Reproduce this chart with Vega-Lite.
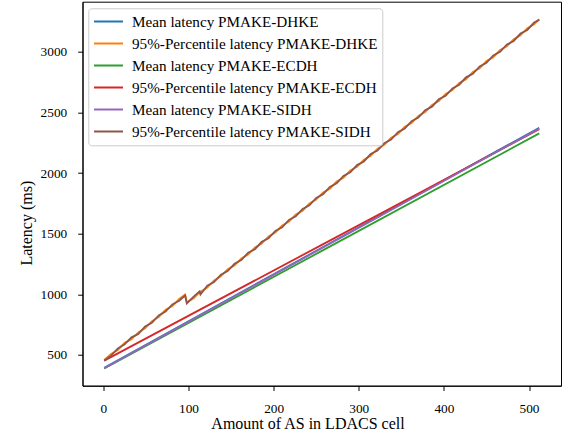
{
  "$schema": "https://vega.github.io/schema/vega-lite/v6.json",
  "width": 478.5,
  "height": 384,
  "autosize": "none",
  "padding": {"left": 82.5, "top": 1.7, "right": 13, "bottom": 48.3},
  "background": "white",
  "config": {
    "view": {"stroke": "black", "strokeWidth": 1},
    "font": "Liberation Serif",
    "style": {
      "guide-label": {"font": "Liberation Serif"},
      "guide-title": {"font": "Liberation Serif"}
    },
    "axis": {
      "labelFont": "Liberation Serif",
      "labelFontSize": 13.3,
      "labelColor": "black",
      "titleFont": "Liberation Serif",
      "titleFontSize": 16,
      "titleFontWeight": "normal",
      "titleColor": "black",
      "domainColor": "black",
      "tickColor": "black",
      "tickSize": 4.8,
      "labelPadding": 11,
      "grid": false
    },
    "legend": {
      "labelFont": "Liberation Serif",
      "labelFontSize": 15.2,
      "labelColor": "black",
      "labelLimit": 500,
      "symbolType": "M-1,0H2.87",
      "symbolSize": 225,
      "symbolStrokeWidth": 2,
      "labelOffset": 22,
      "rowPadding": 5,
      "padding": 4.7,
      "strokeColor": "#cccccc",
      "cornerRadius": 3,
      "fillColor": "rgba(255,255,255,0.8)"
    }
  },
  "datasets": {
    "lat": [
      {"n": 1, "latency": 394, "series": "Mean latency PMAKE-DHKE"},
      {"n": 256, "latency": 1382, "series": "Mean latency PMAKE-DHKE"},
      {"n": 512, "latency": 2374, "series": "Mean latency PMAKE-DHKE"},

      {"n": 1, "latency": 458, "series": "95%-Percentile latency PMAKE-DHKE"},
      {"n": 9, "latency": 508, "series": "95%-Percentile latency PMAKE-DHKE"},
      {"n": 17, "latency": 541, "series": "95%-Percentile latency PMAKE-DHKE"},
      {"n": 25, "latency": 601, "series": "95%-Percentile latency PMAKE-DHKE"},
      {"n": 33, "latency": 630, "series": "95%-Percentile latency PMAKE-DHKE"},
      {"n": 41, "latency": 686, "series": "95%-Percentile latency PMAKE-DHKE"},
      {"n": 49, "latency": 719, "series": "95%-Percentile latency PMAKE-DHKE"},
      {"n": 57, "latency": 779, "series": "95%-Percentile latency PMAKE-DHKE"},
      {"n": 65, "latency": 813, "series": "95%-Percentile latency PMAKE-DHKE"},
      {"n": 73, "latency": 872, "series": "95%-Percentile latency PMAKE-DHKE"},
      {"n": 81, "latency": 903, "series": "95%-Percentile latency PMAKE-DHKE"},
      {"n": 89, "latency": 962, "series": "95%-Percentile latency PMAKE-DHKE"},
      {"n": 96, "latency": 998, "series": "95%-Percentile latency PMAKE-DHKE"},
      {"n": 98, "latency": 934, "series": "95%-Percentile latency PMAKE-DHKE"},
      {"n": 106, "latency": 968, "series": "95%-Percentile latency PMAKE-DHKE"},
      {"n": 113, "latency": 1016, "series": "95%-Percentile latency PMAKE-DHKE"},
      {"n": 114, "latency": 1022, "series": "95%-Percentile latency PMAKE-DHKE"},
      {"n": 122, "latency": 1056, "series": "95%-Percentile latency PMAKE-DHKE"},
      {"n": 130, "latency": 1115, "series": "95%-Percentile latency PMAKE-DHKE"},
      {"n": 138, "latency": 1149, "series": "95%-Percentile latency PMAKE-DHKE"},
      {"n": 146, "latency": 1207, "series": "95%-Percentile latency PMAKE-DHKE"},
      {"n": 154, "latency": 1238, "series": "95%-Percentile latency PMAKE-DHKE"},
      {"n": 162, "latency": 1296, "series": "95%-Percentile latency PMAKE-DHKE"},
      {"n": 170, "latency": 1329, "series": "95%-Percentile latency PMAKE-DHKE"},
      {"n": 178, "latency": 1387, "series": "95%-Percentile latency PMAKE-DHKE"},
      {"n": 186, "latency": 1419, "series": "95%-Percentile latency PMAKE-DHKE"},
      {"n": 194, "latency": 1478, "series": "95%-Percentile latency PMAKE-DHKE"},
      {"n": 202, "latency": 1510, "series": "95%-Percentile latency PMAKE-DHKE"},
      {"n": 210, "latency": 1568, "series": "95%-Percentile latency PMAKE-DHKE"},
      {"n": 218, "latency": 1600, "series": "95%-Percentile latency PMAKE-DHKE"},
      {"n": 226, "latency": 1659, "series": "95%-Percentile latency PMAKE-DHKE"},
      {"n": 234, "latency": 1690, "series": "95%-Percentile latency PMAKE-DHKE"},
      {"n": 242, "latency": 1749, "series": "95%-Percentile latency PMAKE-DHKE"},
      {"n": 250, "latency": 1781, "series": "95%-Percentile latency PMAKE-DHKE"},
      {"n": 258, "latency": 1840, "series": "95%-Percentile latency PMAKE-DHKE"},
      {"n": 266, "latency": 1871, "series": "95%-Percentile latency PMAKE-DHKE"},
      {"n": 274, "latency": 1930, "series": "95%-Percentile latency PMAKE-DHKE"},
      {"n": 282, "latency": 1962, "series": "95%-Percentile latency PMAKE-DHKE"},
      {"n": 290, "latency": 2021, "series": "95%-Percentile latency PMAKE-DHKE"},
      {"n": 298, "latency": 2052, "series": "95%-Percentile latency PMAKE-DHKE"},
      {"n": 306, "latency": 2111, "series": "95%-Percentile latency PMAKE-DHKE"},
      {"n": 314, "latency": 2142, "series": "95%-Percentile latency PMAKE-DHKE"},
      {"n": 322, "latency": 2201, "series": "95%-Percentile latency PMAKE-DHKE"},
      {"n": 330, "latency": 2233, "series": "95%-Percentile latency PMAKE-DHKE"},
      {"n": 338, "latency": 2292, "series": "95%-Percentile latency PMAKE-DHKE"},
      {"n": 346, "latency": 2323, "series": "95%-Percentile latency PMAKE-DHKE"},
      {"n": 354, "latency": 2382, "series": "95%-Percentile latency PMAKE-DHKE"},
      {"n": 362, "latency": 2414, "series": "95%-Percentile latency PMAKE-DHKE"},
      {"n": 370, "latency": 2472, "series": "95%-Percentile latency PMAKE-DHKE"},
      {"n": 378, "latency": 2504, "series": "95%-Percentile latency PMAKE-DHKE"},
      {"n": 386, "latency": 2563, "series": "95%-Percentile latency PMAKE-DHKE"},
      {"n": 394, "latency": 2594, "series": "95%-Percentile latency PMAKE-DHKE"},
      {"n": 402, "latency": 2653, "series": "95%-Percentile latency PMAKE-DHKE"},
      {"n": 410, "latency": 2685, "series": "95%-Percentile latency PMAKE-DHKE"},
      {"n": 418, "latency": 2744, "series": "95%-Percentile latency PMAKE-DHKE"},
      {"n": 426, "latency": 2775, "series": "95%-Percentile latency PMAKE-DHKE"},
      {"n": 434, "latency": 2834, "series": "95%-Percentile latency PMAKE-DHKE"},
      {"n": 442, "latency": 2865, "series": "95%-Percentile latency PMAKE-DHKE"},
      {"n": 450, "latency": 2925, "series": "95%-Percentile latency PMAKE-DHKE"},
      {"n": 458, "latency": 2956, "series": "95%-Percentile latency PMAKE-DHKE"},
      {"n": 466, "latency": 3015, "series": "95%-Percentile latency PMAKE-DHKE"},
      {"n": 474, "latency": 3046, "series": "95%-Percentile latency PMAKE-DHKE"},
      {"n": 482, "latency": 3105, "series": "95%-Percentile latency PMAKE-DHKE"},
      {"n": 490, "latency": 3137, "series": "95%-Percentile latency PMAKE-DHKE"},
      {"n": 498, "latency": 3196, "series": "95%-Percentile latency PMAKE-DHKE"},
      {"n": 506, "latency": 3227, "series": "95%-Percentile latency PMAKE-DHKE"},
      {"n": 512, "latency": 3270, "series": "95%-Percentile latency PMAKE-DHKE"},

      {"n": 1, "latency": 388, "series": "Mean latency PMAKE-ECDH"},
      {"n": 256, "latency": 1356, "series": "Mean latency PMAKE-ECDH"},
      {"n": 512, "latency": 2328, "series": "Mean latency PMAKE-ECDH"},

      {"n": 1, "latency": 453, "series": "95%-Percentile latency PMAKE-ECDH"},
      {"n": 256, "latency": 1406, "series": "95%-Percentile latency PMAKE-ECDH"},
      {"n": 512, "latency": 2362, "series": "95%-Percentile latency PMAKE-ECDH"},

      {"n": 1, "latency": 390, "series": "Mean latency PMAKE-SIDH"},
      {"n": 256, "latency": 1378, "series": "Mean latency PMAKE-SIDH"},
      {"n": 512, "latency": 2368, "series": "Mean latency PMAKE-SIDH"},

      {"n": 1, "latency": 452, "series": "95%-Percentile latency PMAKE-SIDH"},
      {"n": 9, "latency": 494, "series": "95%-Percentile latency PMAKE-SIDH"},
      {"n": 17, "latency": 554, "series": "95%-Percentile latency PMAKE-SIDH"},
      {"n": 25, "latency": 587, "series": "95%-Percentile latency PMAKE-SIDH"},
      {"n": 33, "latency": 645, "series": "95%-Percentile latency PMAKE-SIDH"},
      {"n": 41, "latency": 672, "series": "95%-Percentile latency PMAKE-SIDH"},
      {"n": 49, "latency": 735, "series": "95%-Percentile latency PMAKE-SIDH"},
      {"n": 57, "latency": 766, "series": "95%-Percentile latency PMAKE-SIDH"},
      {"n": 65, "latency": 826, "series": "95%-Percentile latency PMAKE-SIDH"},
      {"n": 73, "latency": 858, "series": "95%-Percentile latency PMAKE-SIDH"},
      {"n": 81, "latency": 917, "series": "95%-Percentile latency PMAKE-SIDH"},
      {"n": 89, "latency": 947, "series": "95%-Percentile latency PMAKE-SIDH"},
      {"n": 96, "latency": 990, "series": "95%-Percentile latency PMAKE-SIDH"},
      {"n": 98, "latency": 925, "series": "95%-Percentile latency PMAKE-SIDH"},
      {"n": 106, "latency": 981, "series": "95%-Percentile latency PMAKE-SIDH"},
      {"n": 113, "latency": 1024, "series": "95%-Percentile latency PMAKE-SIDH"},
      {"n": 114, "latency": 998, "series": "95%-Percentile latency PMAKE-SIDH"},
      {"n": 122, "latency": 1071, "series": "95%-Percentile latency PMAKE-SIDH"},
      {"n": 130, "latency": 1101, "series": "95%-Percentile latency PMAKE-SIDH"},
      {"n": 138, "latency": 1162, "series": "95%-Percentile latency PMAKE-SIDH"},
      {"n": 146, "latency": 1192, "series": "95%-Percentile latency PMAKE-SIDH"},
      {"n": 154, "latency": 1252, "series": "95%-Percentile latency PMAKE-SIDH"},
      {"n": 162, "latency": 1282, "series": "95%-Percentile latency PMAKE-SIDH"},
      {"n": 170, "latency": 1343, "series": "95%-Percentile latency PMAKE-SIDH"},
      {"n": 178, "latency": 1372, "series": "95%-Percentile latency PMAKE-SIDH"},
      {"n": 186, "latency": 1433, "series": "95%-Percentile latency PMAKE-SIDH"},
      {"n": 194, "latency": 1463, "series": "95%-Percentile latency PMAKE-SIDH"},
      {"n": 202, "latency": 1523, "series": "95%-Percentile latency PMAKE-SIDH"},
      {"n": 210, "latency": 1553, "series": "95%-Percentile latency PMAKE-SIDH"},
      {"n": 218, "latency": 1614, "series": "95%-Percentile latency PMAKE-SIDH"},
      {"n": 226, "latency": 1644, "series": "95%-Percentile latency PMAKE-SIDH"},
      {"n": 234, "latency": 1705, "series": "95%-Percentile latency PMAKE-SIDH"},
      {"n": 242, "latency": 1734, "series": "95%-Percentile latency PMAKE-SIDH"},
      {"n": 250, "latency": 1795, "series": "95%-Percentile latency PMAKE-SIDH"},
      {"n": 258, "latency": 1825, "series": "95%-Percentile latency PMAKE-SIDH"},
      {"n": 266, "latency": 1886, "series": "95%-Percentile latency PMAKE-SIDH"},
      {"n": 274, "latency": 1915, "series": "95%-Percentile latency PMAKE-SIDH"},
      {"n": 282, "latency": 1976, "series": "95%-Percentile latency PMAKE-SIDH"},
      {"n": 290, "latency": 2006, "series": "95%-Percentile latency PMAKE-SIDH"},
      {"n": 298, "latency": 2066, "series": "95%-Percentile latency PMAKE-SIDH"},
      {"n": 306, "latency": 2096, "series": "95%-Percentile latency PMAKE-SIDH"},
      {"n": 314, "latency": 2157, "series": "95%-Percentile latency PMAKE-SIDH"},
      {"n": 322, "latency": 2186, "series": "95%-Percentile latency PMAKE-SIDH"},
      {"n": 330, "latency": 2247, "series": "95%-Percentile latency PMAKE-SIDH"},
      {"n": 338, "latency": 2277, "series": "95%-Percentile latency PMAKE-SIDH"},
      {"n": 346, "latency": 2338, "series": "95%-Percentile latency PMAKE-SIDH"},
      {"n": 354, "latency": 2367, "series": "95%-Percentile latency PMAKE-SIDH"},
      {"n": 362, "latency": 2428, "series": "95%-Percentile latency PMAKE-SIDH"},
      {"n": 370, "latency": 2458, "series": "95%-Percentile latency PMAKE-SIDH"},
      {"n": 378, "latency": 2519, "series": "95%-Percentile latency PMAKE-SIDH"},
      {"n": 386, "latency": 2548, "series": "95%-Percentile latency PMAKE-SIDH"},
      {"n": 394, "latency": 2609, "series": "95%-Percentile latency PMAKE-SIDH"},
      {"n": 402, "latency": 2638, "series": "95%-Percentile latency PMAKE-SIDH"},
      {"n": 410, "latency": 2699, "series": "95%-Percentile latency PMAKE-SIDH"},
      {"n": 418, "latency": 2729, "series": "95%-Percentile latency PMAKE-SIDH"},
      {"n": 426, "latency": 2790, "series": "95%-Percentile latency PMAKE-SIDH"},
      {"n": 434, "latency": 2819, "series": "95%-Percentile latency PMAKE-SIDH"},
      {"n": 442, "latency": 2880, "series": "95%-Percentile latency PMAKE-SIDH"},
      {"n": 450, "latency": 2910, "series": "95%-Percentile latency PMAKE-SIDH"},
      {"n": 458, "latency": 2971, "series": "95%-Percentile latency PMAKE-SIDH"},
      {"n": 466, "latency": 3000, "series": "95%-Percentile latency PMAKE-SIDH"},
      {"n": 474, "latency": 3061, "series": "95%-Percentile latency PMAKE-SIDH"},
      {"n": 482, "latency": 3090, "series": "95%-Percentile latency PMAKE-SIDH"},
      {"n": 490, "latency": 3151, "series": "95%-Percentile latency PMAKE-SIDH"},
      {"n": 498, "latency": 3181, "series": "95%-Percentile latency PMAKE-SIDH"},
      {"n": 506, "latency": 3242, "series": "95%-Percentile latency PMAKE-SIDH"},
      {"n": 512, "latency": 3264, "series": "95%-Percentile latency PMAKE-SIDH"}
    ]
  },
  "data": {"name": "lat"},
  "encoding": {
    "x": {
      "field": "n", "type": "quantitative",
      "title": "Amount of AS in LDACS cell",
      "scale": {"domain": [-24.55, 537.55], "nice": false, "zero": false},
      "axis": {"values": [0, 100, 200, 300, 400, 500], "format": "d", "labelFont": "Liberation Serif", "titlePadding": 1, "titleX": 225}
    },
    "y": {
      "field": "latency", "type": "quantitative",
      "title": "Latency (ms)",
      "scale": {"domain": [246, 3414], "nice": false, "zero": false},
      "axis": {"values": [500, 1000, 1500, 2000, 2500, 3000], "format": "d", "labelFont": "Liberation Serif", "titlePadding": 6, "titleY": 221}
    },
    "color": {
      "field": "series", "type": "nominal",
      "scale": {
        "domain": ["Mean latency PMAKE-DHKE", "95%-Percentile latency PMAKE-DHKE", "Mean latency PMAKE-ECDH", "95%-Percentile latency PMAKE-ECDH", "Mean latency PMAKE-SIDH", "95%-Percentile latency PMAKE-SIDH"],
        "range": ["#1f77b4", "#ff7f0e", "#2ca02c", "#d62728", "#9467bd", "#8c564b"]
      },
      "legend": {"title": null, "orient": "none", "legendX": 5.8, "legendY": 6.6}
    }
  },
  "layer": [
    {"transform": [{"filter": "datum.series === 'Mean latency PMAKE-DHKE'"}], "mark": {"type": "line", "strokeWidth": 1.8}},
    {"transform": [{"filter": "datum.series === '95%-Percentile latency PMAKE-DHKE'"}], "mark": {"type": "line", "strokeWidth": 1.8}},
    {"transform": [{"filter": "datum.series === 'Mean latency PMAKE-ECDH'"}], "mark": {"type": "line", "strokeWidth": 1.8}},
    {"transform": [{"filter": "datum.series === '95%-Percentile latency PMAKE-ECDH'"}], "mark": {"type": "line", "strokeWidth": 1.8}},
    {"transform": [{"filter": "datum.series === 'Mean latency PMAKE-SIDH'"}], "mark": {"type": "line", "strokeWidth": 1.8}},
    {"transform": [{"filter": "datum.series === '95%-Percentile latency PMAKE-SIDH'"}], "mark": {"type": "line", "strokeWidth": 1.8}}
  ]
}
